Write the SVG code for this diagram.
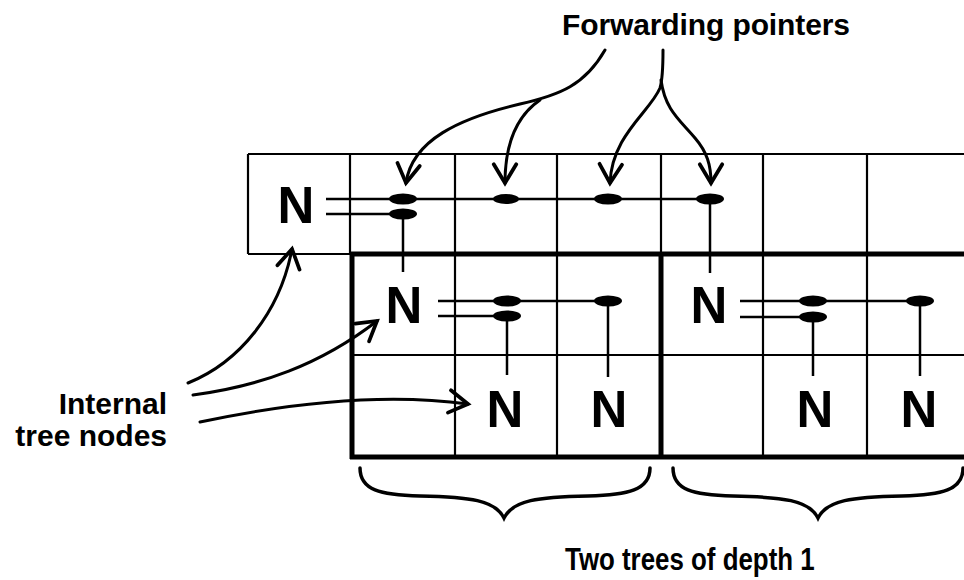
<svg xmlns="http://www.w3.org/2000/svg" width="964" height="580" viewBox="0 0 964 580">
<style>
  .thin{stroke:#000;stroke-width:2.2;fill:none}
  .thick{stroke:#000;stroke-width:5;fill:none}
  .ptr{stroke:#000;stroke-width:2.5;fill:none}
  .dot{fill:#000}
  .arrow{stroke:#000;stroke-width:3;fill:none;stroke-linecap:round;marker-end:url(#vhead)}
  .brace{stroke:#000;stroke-width:3.5;fill:none;stroke-linecap:round}
  .n{font-family:"Liberation Sans",Arial,Helvetica,sans-serif;font-weight:bold;font-size:51px;text-anchor:middle;fill:#000}
  .lbl{font-family:"Liberation Sans",Arial,Helvetica,sans-serif;font-weight:bold;font-size:30px;fill:#000}
</style>
<defs>
  <marker id="vhead" markerUnits="userSpaceOnUse" markerWidth="30" markerHeight="30" viewBox="-20 -12 24 24" refX="0" refY="0" orient="auto">
    <path d="M-15,-9 L0,0 L-15,9" stroke="#000" stroke-width="3" fill="none" stroke-linecap="round" stroke-linejoin="miter"/>
  </marker>
</defs>

<rect width="964" height="580" fill="#fff"/>

<g id="grid">
  <!-- top row -->
  <line class="thin" x1="248" y1="154" x2="964" y2="154"/>
  <line class="thin" x1="248" y1="154" x2="248" y2="254"/>
  <line class="thin" x1="248" y1="254" x2="352" y2="254"/>
  <line class="thin" x1="350" y1="154" x2="350" y2="254"/>
  <line class="thin" x1="455" y1="154" x2="455" y2="254"/>
  <line class="thin" x1="557" y1="154" x2="557" y2="254"/>
  <line class="thin" x1="661" y1="154" x2="661" y2="254"/>
  <line class="thin" x1="763" y1="154" x2="763" y2="254"/>
  <line class="thin" x1="867" y1="154" x2="867" y2="254"/>
  <!-- trees interior -->
  <line class="thin" x1="352" y1="355" x2="964" y2="355"/>
  <line class="thin" x1="455" y1="254" x2="455" y2="457"/>
  <line class="thin" x1="557" y1="254" x2="557" y2="457"/>
  <line class="thin" x1="763" y1="254" x2="763" y2="457"/>
  <line class="thin" x1="867" y1="254" x2="867" y2="457"/>
  <!-- thick tree borders -->
  <line class="thick" x1="350" y1="254" x2="964" y2="254"/>
  <line class="thick" x1="350" y1="457" x2="964" y2="457"/>
  <line class="thick" x1="352" y1="252" x2="352" y2="459"/>
  <line class="thick" x1="661" y1="252" x2="661" y2="459"/>
</g>

<g id="node-top">
  <text class="n" x="296" y="223">N</text>
</g>
<g id="node-t1-root">
  <text class="n" x="404" y="323">N</text>
</g>
<g id="node-t1-leaf1">
  <text class="n" x="505" y="427">N</text>
</g>
<g id="node-t1-leaf2">
  <text class="n" x="609" y="427">N</text>
</g>
<g id="node-t2-root">
  <text class="n" x="709" y="323">N</text>
</g>
<g id="node-t2-leaf1">
  <text class="n" x="815" y="427">N</text>
</g>
<g id="node-t2-leaf2">
  <text class="n" x="919" y="427">N</text>
</g>

<g id="pointers">
  <!-- top row -->
  <line class="ptr" x1="326" y1="199" x2="710" y2="199"/>
  <line class="ptr" x1="326" y1="214" x2="403" y2="214"/>
  <line class="ptr" x1="403" y1="214" x2="403" y2="272"/>
  <line class="ptr" x1="710" y1="199" x2="710" y2="273"/>
  <ellipse class="dot" cx="403" cy="199" rx="14" ry="5.5"/>
  <ellipse class="dot" cx="403" cy="214" rx="14" ry="5.5"/>
  <ellipse class="dot" cx="506" cy="199" rx="13" ry="5"/>
  <ellipse class="dot" cx="608" cy="199" rx="14" ry="5.5"/>
  <ellipse class="dot" cx="710" cy="199" rx="14" ry="5.5"/>
  <!-- tree 1 -->
  <line class="ptr" x1="438" y1="301" x2="608" y2="301"/>
  <line class="ptr" x1="438" y1="316" x2="507" y2="316"/>
  <line class="ptr" x1="507" y1="316" x2="507" y2="375"/>
  <line class="ptr" x1="608" y1="301" x2="608" y2="377"/>
  <ellipse class="dot" cx="507" cy="301" rx="14" ry="5.5"/>
  <ellipse class="dot" cx="507" cy="316" rx="14" ry="5.5"/>
  <ellipse class="dot" cx="608" cy="301" rx="14" ry="5.5"/>
  <!-- tree 2 -->
  <line class="ptr" x1="740" y1="301" x2="920" y2="301"/>
  <line class="ptr" x1="740" y1="317" x2="813" y2="317"/>
  <line class="ptr" x1="813" y1="317" x2="813" y2="376"/>
  <line class="ptr" x1="920" y1="301" x2="920" y2="376"/>
  <ellipse class="dot" cx="813" cy="301" rx="14" ry="5.5"/>
  <ellipse class="dot" cx="813" cy="317" rx="14" ry="5.5"/>
  <ellipse class="dot" cx="920" cy="301" rx="14" ry="5.5"/>
</g>

<g id="connectors">
  <!-- forwarding pointers -->
  <path class="arrow" d="M605,50 C585,85 560,95 520,104 C460,118 412,140 406,183"/>
  <path class="arrow" d="M540,100 C518,115 505,140 505,183"/>
  <path class="arrow" d="M663,50 C663,65 663,78 660,88 C650,112 612,135 610,183"/>
  <path class="arrow" d="M661,80 C665,110 680,120 695,138 C707,152 711,165 711,183"/>
  <!-- internal tree nodes -->
  <path class="arrow" d="M188,383 C240,362 280,312 292,249"/>
  <path class="arrow" d="M193,395 C260,386 320,365 377,321"/>
  <path class="arrow" d="M200,422 C280,405 380,392 468,404"/>
</g>

<g id="braces">
  <path class="brace" d="M360,468 C360,490 380,495 420,496 C470,497 495,500 504,518 C513,500 538,497 588,496 C628,495 650,490 650,468"/>
  <path class="brace" d="M673,468 C673,490 693,495 733,496 C783,497 809,500 818,518 C827,500 852,497 902,496 C942,495 963,490 963,468"/>
</g>

<g id="labels">
  <text class="lbl" x="562" y="35" textLength="288">Forwarding pointers</text>
  <text class="lbl" x="167" y="414" text-anchor="end">Internal</text>
  <text class="lbl" x="167" y="446" text-anchor="end">tree nodes</text>
  <text class="lbl" transform="translate(565,570) scale(0.835,1)" x="0" y="0" style="font-size:31px">Two trees of depth 1</text>
</g>
</svg>
